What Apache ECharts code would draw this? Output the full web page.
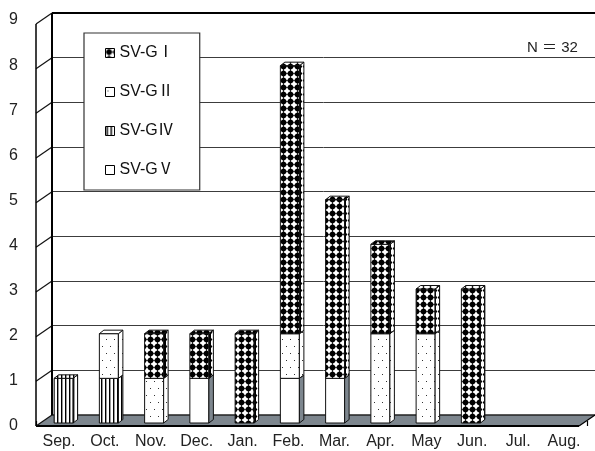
<!DOCTYPE html>
<html>
<head>
<meta charset="utf-8">
<script src="https://cdn.jsdelivr.net/npm/echarts@6/dist/echarts.min.js"></script>
<style>
html,body{margin:0;padding:0;background:#fff;}
#chart{width:595px;height:451px;}
</style>
</head>
<body>
<div id="chart"></div>
<script>
// Monthly counts per genogroup (stacked)
const months = ['Sep.', 'Oct.', 'Nov.', 'Dec.', 'Jan.', 'Feb.', 'Mar.', 'Apr.', 'May', 'Jun.', 'Jul.', 'Aug.'];
const svgI  = [0, 0, 1, 1, 2, 6, 4, 2, 1, 3, 0, 0];
const svgII = [0, 1, 1, 0, 0, 1, 0, 2, 2, 0, 0, 0];
const svgIV = [1, 1, 0, 0, 0, 0, 0, 0, 0, 0, 0, 0];
const svgV  = [0, 0, 0, 1, 0, 1, 1, 0, 0, 0, 0, 0];
const yTicks = [0, 1, 2, 3, 4, 5, 6, 7, 8, 9];
const names = { I: 'SV-GⅠ', II: 'SV-GⅡ', IV: 'SV-GⅣ', V: 'SV-GⅤ' };
const totalLabel = 'N ＝ 32';

const FONT = "'Liberation Sans', Arial, 'Noto Sans CJK JP', sans-serif";

// depth offsets (pixels): wall depth, bar plane shift, bar side depth
const WALL_DX = -16, WALL_DY = 11;
const BAR_DX = -11, BAR_DY = 8;
const SD_X = 4.5, SD_Y = 3.5;

function makePattern(w, h, draw) {
  const c = document.createElement('canvas');
  c.width = w; c.height = h;
  const g = c.getContext('2d');
  g.fillStyle = '#fff';
  g.fillRect(0, 0, w, h);
  draw(g);
  return { image: c, repeat: 'repeat' };
}

function diamondAt(g, cx, cy, r) {
  g.beginPath();
  g.moveTo(cx, cy - r); g.lineTo(cx + r, cy); g.lineTo(cx, cy + r); g.lineTo(cx - r, cy);
  g.closePath(); g.fill();
}

const diamond = makePattern(7, 7, g => {
  g.fillStyle = '#000';
  diamondAt(g, 3.5, 3.5, 3.6);
  g.beginPath(); g.arc(3.5, 3.5, 2.8, 0, Math.PI * 2); g.fill();
});
const bowtie = makePattern(5, 7, g => {
  g.fillStyle = '#000';
  g.fillRect(0, 0, 1, 7);
  g.fillRect(4, 0, 1, 7);
  g.beginPath(); g.moveTo(0, 0.5); g.lineTo(2.3, 3.5); g.lineTo(0, 6.5); g.closePath(); g.fill();
  g.beginPath(); g.moveTo(5, 0.5); g.lineTo(2.7, 3.5); g.lineTo(5, 6.5); g.closePath(); g.fill();
});
const dots = makePattern(8, 14, g => {
  g.fillStyle = '#333';
  g.fillRect(2, 3, 1, 1);
  g.fillRect(6, 10, 1, 1);
});
const stripes = makePattern(4, 4, g => {
  g.fillStyle = '#000';
  g.fillRect(1, 0, 1.4, 4);
});
const GRAY = '#7d868e';

const FILLS = {
  I:  { front: diamond, side: bowtie, top: diamond },
  II: { front: dots, side: dots, top: '#fff' },
  IV: { front: stripes, side: stripes, top: stripes },
  V:  { front: '#fff', side: GRAY, top: '#fff' }
};

// stacking order from the floor upward
const stackOrder = [['V', svgV], ['IV', svgIV], ['II', svgII], ['I', svgI]];
const base = months.map(() => 0);
const stacked = {};
stackOrder.forEach(([key, vals]) => {
  stacked[key] = [];
  vals.forEach((v, i) => {
    if (v > 0) stacked[key].push([i, base[i], base[i] + v]);
    base[i] += v;
  });
});

function barRender(key) {
  return function (params, api) {
    const cat = api.value(0), lo = api.value(1), hi = api.value(2);
    const pLo = api.coord([cat, lo]);
    const pHi = api.coord([cat, hi]);
    const band = api.size([1, 0])[0];
    const w = band * 0.42;
    const cx = pLo[0] + BAR_DX;
    const x1 = cx - w / 2, x2 = cx + w / 2;
    const yb = pLo[1] + BAR_DY, yt = pHi[1] + BAR_DY;
    const f = FILLS[key];
    const st = { stroke: '#111', lineWidth: 1 };
    return {
      type: 'group',
      children: [
        { type: 'rect', shape: { x: x1, y: yt, width: w, height: yb - yt }, style: Object.assign({ fill: f.front }, st) },
        { type: 'polygon', shape: { points: [[x2, yt], [x2 + SD_X, yt - SD_Y], [x2 + SD_X, yb - SD_Y], [x2, yb]] }, style: Object.assign({ fill: f.side }, st) },
        { type: 'polygon', shape: { points: [[x1, yt], [x1 + SD_X, yt - SD_Y], [x2 + SD_X, yt - SD_Y], [x2, yt]] }, style: Object.assign({ fill: f.top }, st) }
      ]
    };
  };
}

// left wall, floor and back-wall frame
function frameRender(params, api) {
  const band = api.size([1, 0])[0];
  const p0 = api.coord([0, 0]);
  const pN = api.coord([months.length - 1, 0]);
  const pTop = api.coord([0, 9]);
  const bl = p0[0] - band / 2, br = pN[0] + band / 2;
  const by = p0[1], ty = pTop[1];
  const fl = bl + WALL_DX, fr = br + WALL_DX, fy = by + WALL_DY;
  const children = [];
  children.push({ type: 'polygon', shape: { points: [[bl, by], [br, by], [fr, fy], [fl, fy]] }, style: { fill: GRAY } });
  children.push({ type: 'line', shape: { x1: bl, y1: by, x2: br, y2: by }, style: { stroke: '#222', lineWidth: 1.5 } });
  children.push({ type: 'line', shape: { x1: fl, y1: fy, x2: fr, y2: fy }, style: { stroke: '#000', lineWidth: 2 } });
  children.push({ type: 'line', shape: { x1: fr, y1: fy, x2: br, y2: by }, style: { stroke: '#000', lineWidth: 1.2 } });
  yTicks.forEach(v => {
    const p = api.coord([0, v]);
    children.push({ type: 'line', shape: { x1: fl, y1: p[1] + WALL_DY, x2: bl, y2: p[1] }, style: { stroke: '#111', lineWidth: 1.2 } });
  });
  children.push({ type: 'line', shape: { x1: fl, y1: ty + WALL_DY, x2: fl, y2: fy }, style: { stroke: '#000', lineWidth: 1.5 } });
  children.push({ type: 'line', shape: { x1: bl, y1: ty, x2: bl, y2: by }, style: { stroke: '#000', lineWidth: 2 } });
  children.push({ type: 'line', shape: { x1: bl, y1: ty, x2: br, y2: ty }, style: { stroke: '#000', lineWidth: 2 } });
  return { type: 'group', children: children };
}

const chart = echarts.init(document.getElementById('chart'), null, { renderer: 'canvas' });

const barSeries = stackOrder.map(([key]) => ({
  type: 'custom',
  name: names[key],
  xAxisIndex: 0,
  yAxisIndex: 0,
  renderItem: barRender(key),
  itemStyle: { color: FILLS[key].front },
  encode: { x: 0, y: [1, 2] },
  data: stacked[key],
  z: 3
}));

chart.setOption({
  animation: false,
  backgroundColor: '#fff',
  grid: [
    { left: 52, right: -8, top: 13, bottom: 36 },   // back wall
    { left: 36, right: 8, top: 20, bottom: 25 }     // front edge (labels)
  ],
  xAxis: [
    { type: 'category', gridIndex: 0, data: months, axisLine: { show: false }, axisTick: { show: false }, axisLabel: { show: false } },
    {
      type: 'category', gridIndex: 1, data: months,
      axisLine: { show: false },
      axisTick: { show: true, inside: true, length: 5, lineStyle: { color: '#000', width: 1.2 } },
      axisLabel: { margin: 8, fontSize: 16, fontFamily: FONT, color: '#222' }
    }
  ],
  yAxis: [
    {
      type: 'value', gridIndex: 0, min: 0, max: 9, interval: 1,
      axisLine: { show: false }, axisTick: { show: false }, axisLabel: { show: false },
      splitLine: { show: true, lineStyle: { color: '#3c3c3c', width: 1 } }
    },
    {
      type: 'value', gridIndex: 1, min: 0, max: 9, interval: 1,
      axisLine: { show: false }, axisTick: { show: false }, splitLine: { show: false },
      axisLabel: { margin: 18, fontSize: 16, fontFamily: FONT, color: '#222' }
    }
  ],
  legend: {
    orient: 'vertical',
    left: 84, top: 33,
    padding: [12, 26, 12, 21],
    itemGap: 23,
    itemWidth: 9, itemHeight: 9,
    selectedMode: false,
    borderColor: '#333', borderWidth: 1.2,
    backgroundColor: '#fff',
    textStyle: { fontSize: 16, fontFamily: FONT, color: '#111', lineHeight: 15 },
    data: ['I', 'II', 'IV', 'V'].map(k => ({
      name: names[k], icon: 'rect',
      itemStyle: { color: FILLS[k].front, borderColor: '#000', borderWidth: 1 }
    }))
  },
  graphic: [
    { type: 'text', left: 527, top: 40, style: { text: totalLabel, font: '15px ' + FONT, fill: '#222' } }
  ],
  series: [
    {
      type: 'custom', name: 'frame', xAxisIndex: 0, yAxisIndex: 0,
      renderItem: frameRender, data: [[0, 0]], z: 1, silent: true
    }
  ].concat(barSeries)
});
</script>
</body>
</html>
